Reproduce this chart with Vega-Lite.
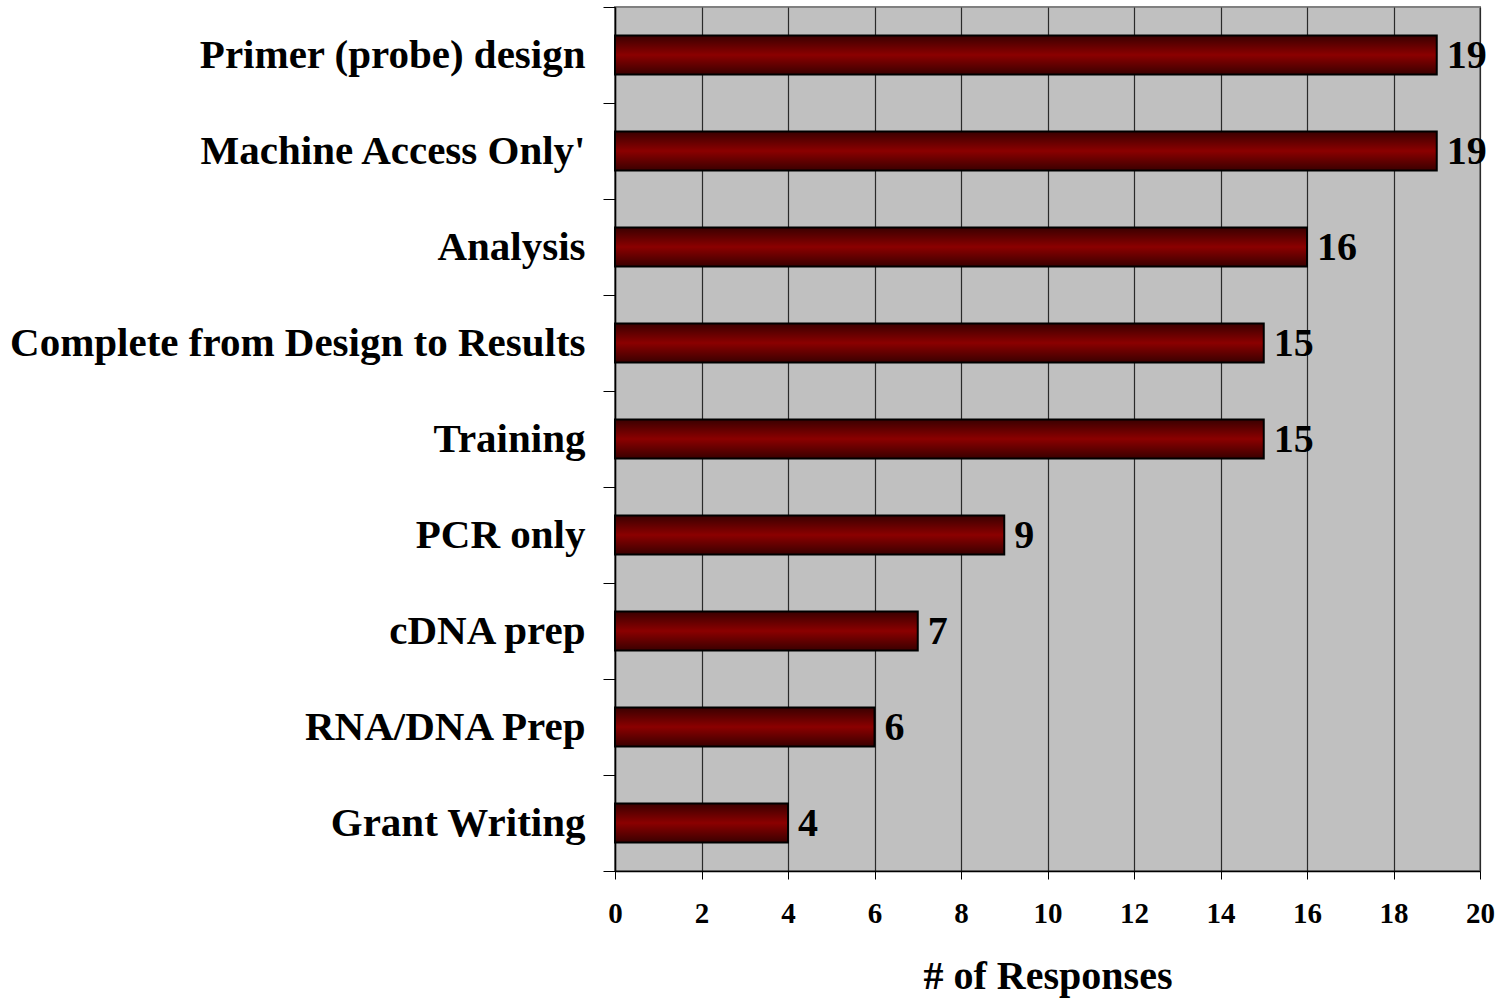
{
  "$schema": "https://vega.github.io/schema/vega-lite/v6.json",
  "autosize": "none",
  "width": 865,
  "height": 864,
  "padding": {"left": 615, "top": 7, "right": 25, "bottom": 130},
  "background": "white",
  "config": {
    "view": {"fill": "#C0C0C0", "stroke": "#808080", "strokeWidth": 2},
    "font": "Liberation Serif"
  },
  "data": {
    "values": [
      {"category": "Primer (probe) design", "responses": 19},
      {"category": "Machine Access Only'", "responses": 19},
      {"category": "Analysis", "responses": 16},
      {"category": "Complete from Design to Results", "responses": 15},
      {"category": "Training", "responses": 15},
      {"category": "PCR only", "responses": 9},
      {"category": "cDNA prep", "responses": 7},
      {"category": "RNA/DNA Prep", "responses": 6},
      {"category": "Grant Writing", "responses": 4}
    ]
  },
  "encoding": {
    "y": {
      "field": "category",
      "type": "nominal",
      "sort": null,
      "scale": {"paddingInner": 0, "paddingOuter": 0},
      "axis": {
        "title": null,
        "tickBand": "extent",
        "tickExtra": true,
        "tickSize": 12,
        "tickColor": "#000000",
        "tickWidth": 1,
        "domainColor": "#000000",
        "domainWidth": 1.5,
        "labelFont": "Liberation Serif",
        "labelFontWeight": "bold",
        "labelFontSize": 41,
        "labelColor": "#000000",
        "labelPadding": 18,
        "labelLimit": 700
      }
    },
    "x": {
      "field": "responses",
      "type": "quantitative",
      "scale": {"domain": [0, 20], "nice": false},
      "axis": {
        "title": "# of Responses",
        "titleFont": "Liberation Serif",
        "titleFontSize": 40,
        "titleFontWeight": "bold",
        "titleColor": "#000000",
        "titlePadding": 28,
        "values": [0, 2, 4, 6, 8, 10, 12, 14, 16, 18, 20],
        "grid": true,
        "gridColor": "#2a2a2a",
        "gridWidth": 1.2,
        "tickSize": 8,
        "tickColor": "#000000",
        "domainColor": "#000000",
        "domainWidth": 1.5,
        "labelFlush": false,
        "labelFont": "Liberation Serif",
        "labelFontWeight": "bold",
        "labelFontSize": 29,
        "labelColor": "#000000",
        "labelPadding": 20
      }
    }
  },
  "layer": [
    {
      "mark": {
        "type": "bar",
        "height": {"band": 0.405},
        "stroke": "#000000",
        "strokeWidth": 2,
        "color": {
          "gradient": "linear",
          "x1": 0, "y1": 0, "x2": 0, "y2": 1,
          "stops": [
            {"offset": 0, "color": "#3a0000"},
            {"offset": 0.5, "color": "#8b0000"},
            {"offset": 1, "color": "#3a0000"}
          ]
        }
      }
    },
    {
      "mark": {
        "type": "text",
        "align": "left",
        "baseline": "middle",
        "dx": 10,
        "dy": 1,
        "font": "Liberation Serif",
        "fontWeight": "bold",
        "fontSize": 40,
        "color": "#000000"
      },
      "encoding": {"text": {"field": "responses", "type": "quantitative"}}
    }
  ]
}
